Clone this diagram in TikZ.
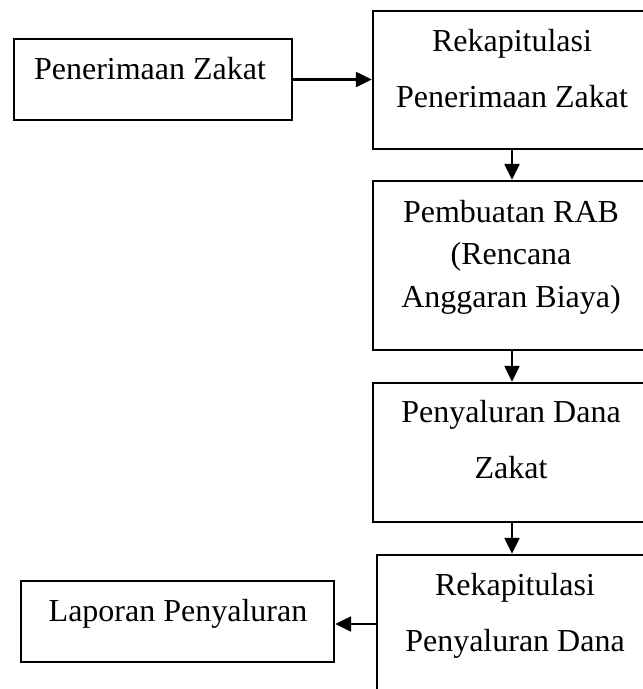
\documentclass[tikz,border=0pt]{standalone}
\usepackage{fontspec}
\setmainfont{Liberation Serif}
\usetikzlibrary{arrows.meta}

\begin{document}
\begin{tikzpicture}[x=1pt, y=-1pt,
    box/.style={draw, line width=2.4pt, minimum width=278pt, inner sep=0pt},
    word/.style={font=\fontsize{32}{56}\selectfont, align=center, anchor=base, inner sep=0pt},
    flow/.style={line width=2.4pt, -{Triangle[length=16pt, width=15pt]}}]
    % Page frame (the right column runs off the page)
    \clip (0,0) rectangle (643,689);

    % Boxes
    \node[box, minimum height=81pt] (terima) at (153,79.5) {};
    \node[box, minimum height=138pt] (rekapTerima) at (512,80) {};
    \node[box, minimum height=169pt] (rab) at (512,265.5) {};
    \node[box, minimum height=139pt] (salur) at (512,452.5) {};
    \node[box, minimum width=276pt, minimum height=150pt] (rekapSalur) at (515,630) {};
    \node[box, minimum width=313pt, minimum height=81pt] (laporan) at (177.5,621.5) {};

    % Texts, set on the last baseline
    \node[word] (terimaT) at (150,79) {Penerimaan Zakat};
    \node[word] (rekapTerimaT) at (512,107) {Rekapitulasi\\Penerimaan Zakat};
    \node[word, font=\fontsize{32}{42.5}\selectfont] (rabT) at (511,307) {Pembuatan RAB\\(Rencana\\Anggaran Biaya)};
    \node[word] (salurT) at (511,478) {Penyaluran Dana\\Zakat};
    \node[word] (rekapSalurT) at (515,651) {Rekapitulasi\\Penyaluran Dana};
    \node[word] (laporanT) at (178,621) {Laporan Penyaluran};

    % Arrows
    \draw[flow] (terima.east) -- (terima.east -| rekapTerima.west);
    \draw[flow] (rekapTerima.south) -- (rab.north);
    \draw[flow] (rab.south) -- (salur.north);
    \draw[flow] (salur.south) -- (rekapSalur.north -| salur.south);
    \draw[flow] (rekapSalur.west |- 0,624) -- (laporan.east |- 0,624);
\end{tikzpicture}
\end{document}
